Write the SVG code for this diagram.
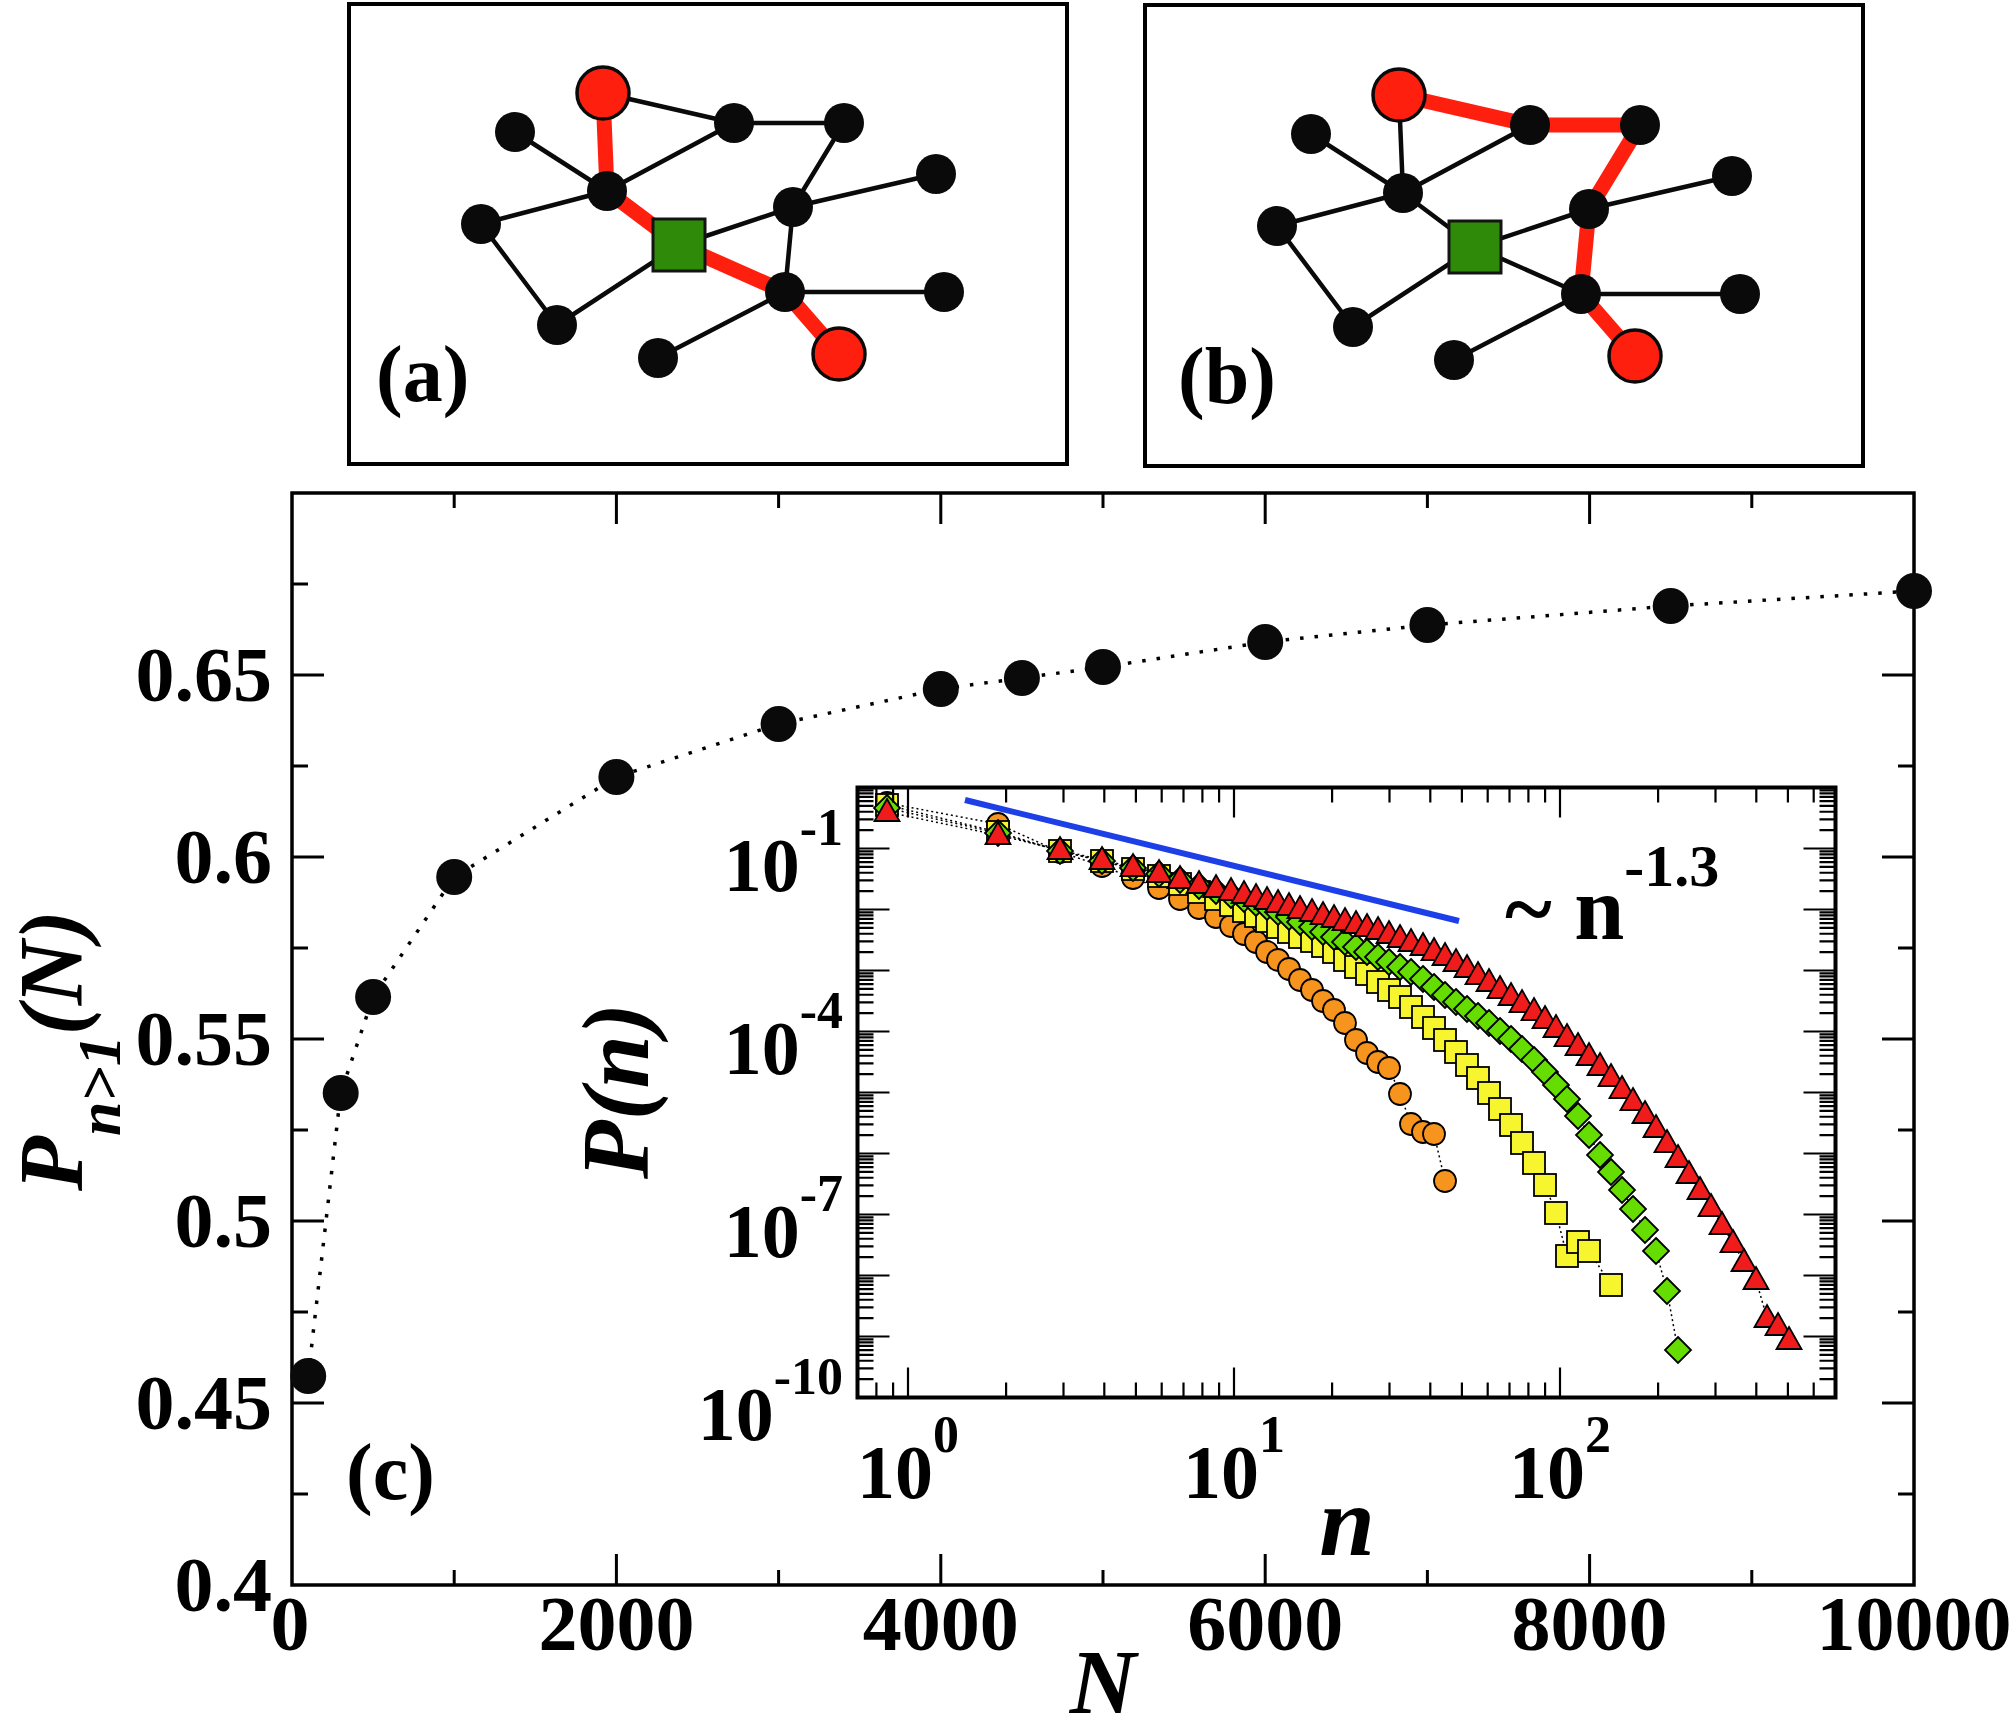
<svg xmlns="http://www.w3.org/2000/svg" width="2016" height="1734" viewBox="0 0 2016 1734">
<style>
.t{font-family:"Liberation Serif","Times New Roman",serif;font-weight:bold;fill:#000}
.it{font-style:italic}
.e{stroke:#0a0a0a;stroke-width:4.5;fill:none}
.er{stroke:#ff1f0f;stroke-width:15;fill:none}
.nb{fill:#0a0a0a}
.nr{fill:#ff1f0f;stroke:#0a0a0a;stroke-width:3.5}
.ng{fill:#2e8a08;stroke:#141414;stroke-width:3}
.box{fill:#fff;stroke:#000;stroke-width:4}
.tk{stroke:#000;stroke-width:3;fill:none}
.tk2{stroke:#000;stroke-width:2.2;fill:none}
.dl{stroke:#000;stroke-width:1.5;fill:none;stroke-dasharray:2 3}
</style>
<defs>
<circle id="mo" r="11" fill="#f7941e" stroke="#000" stroke-width="1.8"/>
<rect id="my" x="-11" y="-11" width="22" height="22" fill="#f7f52e" stroke="#000" stroke-width="1.8"/>
<path id="mg" d="M0 -13L13 0L0 13L-13 0Z" fill="#66dd00" stroke="#000" stroke-width="1.8"/>
<path id="mr" d="M0 -13L12.5 9L-12.5 9Z" fill="#f01c1c" stroke="#000" stroke-width="1.8"/>
<circle id="md" r="18" fill="#0a0a0a"/>
<path id="ydec" d="M0 2.79h16M0 5.91h16M0 9.45h16M0 13.53h16M0 18.36h16M0 24.27h16M0 31.89h16M0 42.64h16M0 61h32"/>
</defs>

<!-- Panel (a) -->
<g id="panel-a">
<rect x="349" y="4" width="718" height="460" class="box"/>
<g id="edges-a">
<path class="er" d="M603 93L607 191L679 245L785 292L839 354"/>
<path class="e" d="M603 93L734 123M734 123L844 123M844 123L793 207M793 207L785 292M607 191L515 132M607 191L734 123M607 191L481 224M481 224L557 325M557 325L679 245M679 245L793 207M793 207L936 174M785 292L944 292M785 292L658 358"/>
</g>
<g id="a-R1"><circle cx="603" cy="93" r="26" class="nr"/></g>
<g id="a-B1"><circle cx="515" cy="132" r="20" class="nb"/></g>
<g id="a-H"><circle cx="607" cy="191" r="20" class="nb"/></g>
<g id="a-B2"><circle cx="481" cy="224" r="20" class="nb"/></g>
<g id="a-G"><rect x="653" y="219" width="52" height="52" class="ng"/></g>
<g id="a-B3"><circle cx="734" cy="123" r="20" class="nb"/></g>
<g id="a-B4"><circle cx="844" cy="123" r="20" class="nb"/></g>
<g id="a-B5"><circle cx="936" cy="174" r="20" class="nb"/></g>
<g id="a-B6"><circle cx="793" cy="207" r="20" class="nb"/></g>
<g id="a-B7"><circle cx="785" cy="292" r="20" class="nb"/></g>
<g id="a-B8"><circle cx="944" cy="292" r="20" class="nb"/></g>
<g id="a-B9"><circle cx="557" cy="325" r="20" class="nb"/></g>
<g id="a-B10"><circle cx="658" cy="358" r="20" class="nb"/></g>
<g id="a-R2"><circle cx="839" cy="354" r="26" class="nr"/></g>
<text x="376" y="401" class="t" font-size="80">(a)</text>
</g>

<!-- Panel (b) -->
<g id="panel-b" transform="translate(796,2)">
<rect x="349" y="3" width="718" height="461" class="box"/>
<g id="edges-b">
<path class="er" d="M603 93L734 123L844 123L793 207L785 292L839 354"/>
<path class="e" d="M603 93L607 191M607 191L515 132M607 191L734 123M607 191L481 224M607 191L679 245M481 224L557 325M557 325L679 245M679 245L793 207M679 245L785 292M793 207L936 174M785 292L944 292M785 292L658 358"/>
</g>
<g id="b-R1"><circle cx="603" cy="93" r="26" class="nr"/></g>
<g id="b-B1"><circle cx="515" cy="132" r="20" class="nb"/></g>
<g id="b-H"><circle cx="607" cy="191" r="20" class="nb"/></g>
<g id="b-B2"><circle cx="481" cy="224" r="20" class="nb"/></g>
<g id="b-G"><rect x="653" y="219" width="52" height="52" class="ng"/></g>
<g id="b-B3"><circle cx="734" cy="123" r="20" class="nb"/></g>
<g id="b-B4"><circle cx="844" cy="123" r="20" class="nb"/></g>
<g id="b-B5"><circle cx="936" cy="174" r="20" class="nb"/></g>
<g id="b-B6"><circle cx="793" cy="207" r="20" class="nb"/></g>
<g id="b-B7"><circle cx="785" cy="292" r="20" class="nb"/></g>
<g id="b-B8"><circle cx="944" cy="292" r="20" class="nb"/></g>
<g id="b-B9"><circle cx="557" cy="325" r="20" class="nb"/></g>
<g id="b-B10"><circle cx="658" cy="358" r="20" class="nb"/></g>
<g id="b-R2"><circle cx="839" cy="354" r="26" class="nr"/></g>
<text x="382" y="401" class="t" font-size="80">(b)</text>
</g>

<!-- Panel (c) main plot -->
<g id="panel-c">
<rect x="292" y="493" width="1622" height="1092" fill="#fff" stroke="#000" stroke-width="3.5"/>
<path class="tk" d="M616.4 1585v-31M940.8 1585v-31M1265.2 1585v-31M1589.6 1585v-31M454.2 1585v-15M778.6 1585v-15M1103 1585v-15M1427.4 1585v-15M1751.8 1585v-15
M616.4 493v31M940.8 493v31M1265.2 493v31M1589.6 493v31M454.2 493v15M778.6 493v15M1103 493v15M1427.4 493v15M1751.8 493v15
M292 1403h32M292 1221h32M292 1039h32M292 857h32M292 675h32M292 1494h16M292 1312h16M292 1130h16M292 948h16M292 766h16M292 584h16
M1914 1403h-32M1914 1221h-32M1914 1039h-32M1914 857h-32M1914 675h-32M1914 1494h-16M1914 1312h-16M1914 1130h-16M1914 948h-16M1914 766h-16M1914 584h-16"/>
<g class="t" font-size="78" text-anchor="end">
<text x="272" y="1611">0.4</text>
<text x="272" y="1429">0.45</text>
<text x="272" y="1247">0.5</text>
<text x="272" y="1065">0.55</text>
<text x="272" y="883">0.6</text>
<text x="272" y="701">0.65</text>
</g>
<g class="t" font-size="78" text-anchor="middle">
<text x="290" y="1650">0</text>
<text x="616.4" y="1650">2000</text>
<text x="940.8" y="1650">4000</text>
<text x="1265.2" y="1650">6000</text>
<text x="1589.6" y="1650">8000</text>
<text x="1914" y="1650">10000</text>
</g>
<text x="1103" y="1713" class="t it" font-size="92" text-anchor="middle">N</text>
<text transform="translate(82,1191) rotate(-90)" class="t it" font-size="90">P<tspan font-size="62" dy="38">n&gt;1</tspan><tspan font-size="90" dy="-38">(N)</tspan></text>
<text x="346" y="1499" class="t" font-size="80">(c)</text>
<path d="M308.2 1376L340.7 1093L373.1 997L454.2 877L616.4 777L778.6 724L940.8 689L1021.9 678L1103 667L1265.2 642L1427.4 625L1670.7 606L1914 591" fill="none" stroke="#000" stroke-width="3.5" stroke-dasharray="3.5 11"/>
<g id="main-data">
<use href="#md" x="308.2" y="1376"/><use href="#md" x="340.7" y="1093"/><use href="#md" x="373.1" y="997"/><use href="#md" x="454.2" y="877"/><use href="#md" x="616.4" y="777"/><use href="#md" x="778.6" y="724"/><use href="#md" x="940.8" y="689"/><use href="#md" x="1021.9" y="678"/><use href="#md" x="1103" y="667"/><use href="#md" x="1265.2" y="642"/><use href="#md" x="1427.4" y="625"/><use href="#md" x="1670.7" y="606"/><use href="#md" x="1914" y="591"/>
</g>
</g>

<!-- Inset -->
<g id="inset">
<rect x="857.5" y="787.5" width="978" height="610" fill="#fff"/>
<line x1="965" y1="800" x2="1459" y2="921" stroke="#1c3fe8" stroke-width="6"/>
<g id="s-orange">
<polyline class="dl" points="887,803 998,824 1060,852 1102,866 1133,878 1159,888 1180,899 1199,908 1216,917 1231,926 1244,934 1256,942 1267,952 1278,960 1289,969 1300,980 1312,990 1323,1001 1334,1010 1345,1023 1356,1040 1367,1053 1378,1062 1389,1068 1400,1094 1411,1124 1423,1132 1434,1134 1445,1181"/>
<use href="#mo" x="887" y="803"/><use href="#mo" x="998" y="824"/><use href="#mo" x="1060" y="852"/><use href="#mo" x="1102" y="866"/><use href="#mo" x="1133" y="878"/><use href="#mo" x="1159" y="888"/><use href="#mo" x="1180" y="899"/><use href="#mo" x="1199" y="908"/><use href="#mo" x="1216" y="917"/><use href="#mo" x="1231" y="926"/><use href="#mo" x="1244" y="934"/><use href="#mo" x="1256" y="942"/><use href="#mo" x="1267" y="952"/><use href="#mo" x="1278" y="960"/><use href="#mo" x="1289" y="969"/><use href="#mo" x="1300" y="980"/><use href="#mo" x="1312" y="990"/><use href="#mo" x="1323" y="1001"/><use href="#mo" x="1334" y="1010"/><use href="#mo" x="1345" y="1023"/><use href="#mo" x="1356" y="1040"/><use href="#mo" x="1367" y="1053"/><use href="#mo" x="1378" y="1062"/><use href="#mo" x="1389" y="1068"/><use href="#mo" x="1400" y="1094"/><use href="#mo" x="1411" y="1124"/><use href="#mo" x="1423" y="1132"/><use href="#mo" x="1434" y="1134"/><use href="#mo" x="1445" y="1181"/>
</g>
<g id="s-yellow">
<polyline class="dl" points="887,805 998,832 1060,851 1102,861 1133,869 1159,876 1180,884 1199,892 1216,899 1231,905 1244,911 1256,916 1267,921 1278,927 1289,932 1300,937 1312,941 1323,946 1334,952 1345,960 1356,967 1367,974 1378,982 1389,990 1400,997 1411,1007 1423,1017 1434,1028 1445,1040 1456,1052 1467,1065 1478,1078 1489,1093 1500,1109 1511,1125 1522,1143 1534,1163 1545,1185 1556,1213 1567,1256 1578,1242 1589,1251 1611,1285"/>
<use href="#my" x="887" y="805"/><use href="#my" x="998" y="832"/><use href="#my" x="1060" y="851"/><use href="#my" x="1102" y="861"/><use href="#my" x="1133" y="869"/><use href="#my" x="1159" y="876"/><use href="#my" x="1180" y="884"/><use href="#my" x="1199" y="892"/><use href="#my" x="1216" y="899"/><use href="#my" x="1231" y="905"/><use href="#my" x="1244" y="911"/><use href="#my" x="1256" y="916"/><use href="#my" x="1267" y="921"/><use href="#my" x="1278" y="927"/><use href="#my" x="1289" y="932"/><use href="#my" x="1300" y="937"/><use href="#my" x="1312" y="941"/><use href="#my" x="1323" y="946"/><use href="#my" x="1334" y="952"/><use href="#my" x="1345" y="960"/><use href="#my" x="1356" y="967"/><use href="#my" x="1367" y="974"/><use href="#my" x="1378" y="982"/><use href="#my" x="1389" y="990"/><use href="#my" x="1400" y="997"/><use href="#my" x="1411" y="1007"/><use href="#my" x="1423" y="1017"/><use href="#my" x="1434" y="1028"/><use href="#my" x="1445" y="1040"/><use href="#my" x="1456" y="1052"/><use href="#my" x="1467" y="1065"/><use href="#my" x="1478" y="1078"/><use href="#my" x="1489" y="1093"/><use href="#my" x="1500" y="1109"/><use href="#my" x="1511" y="1125"/><use href="#my" x="1522" y="1143"/><use href="#my" x="1534" y="1163"/><use href="#my" x="1545" y="1185"/><use href="#my" x="1556" y="1213"/><use href="#my" x="1567" y="1256"/><use href="#my" x="1578" y="1242"/><use href="#my" x="1589" y="1251"/><use href="#my" x="1611" y="1285"/>
</g>
<g id="s-green">
<polyline class="dl" points="887,808 998,833 1060,851 1102,861 1133,868 1159,874 1180,880 1199,886 1216,891 1231,895 1244,899 1256,903 1267,907 1278,912 1289,917 1300,922 1312,927 1323,932 1334,937 1345,942 1356,947 1367,952 1378,957 1389,962 1400,967 1411,972 1423,979 1434,987 1445,995 1456,1002 1467,1009 1478,1016 1489,1023 1500,1031 1511,1039 1522,1049 1534,1060 1545,1072 1556,1085 1567,1099 1578,1116 1589,1135 1600,1155 1611,1172 1622,1190 1633,1209 1645,1230 1656,1251 1667,1291 1678,1350"/>
<use href="#mg" x="887" y="808"/><use href="#mg" x="998" y="833"/><use href="#mg" x="1060" y="851"/><use href="#mg" x="1102" y="861"/><use href="#mg" x="1133" y="868"/><use href="#mg" x="1159" y="874"/><use href="#mg" x="1180" y="880"/><use href="#mg" x="1199" y="886"/><use href="#mg" x="1216" y="891"/><use href="#mg" x="1231" y="895"/><use href="#mg" x="1244" y="899"/><use href="#mg" x="1256" y="903"/><use href="#mg" x="1267" y="907"/><use href="#mg" x="1278" y="912"/><use href="#mg" x="1289" y="917"/><use href="#mg" x="1300" y="922"/><use href="#mg" x="1312" y="927"/><use href="#mg" x="1323" y="932"/><use href="#mg" x="1334" y="937"/><use href="#mg" x="1345" y="942"/><use href="#mg" x="1356" y="947"/><use href="#mg" x="1367" y="952"/><use href="#mg" x="1378" y="957"/><use href="#mg" x="1389" y="962"/><use href="#mg" x="1400" y="967"/><use href="#mg" x="1411" y="972"/><use href="#mg" x="1423" y="979"/><use href="#mg" x="1434" y="987"/><use href="#mg" x="1445" y="995"/><use href="#mg" x="1456" y="1002"/><use href="#mg" x="1467" y="1009"/><use href="#mg" x="1478" y="1016"/><use href="#mg" x="1489" y="1023"/><use href="#mg" x="1500" y="1031"/><use href="#mg" x="1511" y="1039"/><use href="#mg" x="1522" y="1049"/><use href="#mg" x="1534" y="1060"/><use href="#mg" x="1545" y="1072"/><use href="#mg" x="1556" y="1085"/><use href="#mg" x="1567" y="1099"/><use href="#mg" x="1578" y="1116"/><use href="#mg" x="1589" y="1135"/><use href="#mg" x="1600" y="1155"/><use href="#mg" x="1611" y="1172"/><use href="#mg" x="1622" y="1190"/><use href="#mg" x="1633" y="1209"/><use href="#mg" x="1645" y="1230"/><use href="#mg" x="1656" y="1251"/><use href="#mg" x="1667" y="1291"/><use href="#mg" x="1678" y="1350"/>
</g>
<g id="s-red">
<polyline class="dl" points="887,812 998,835 1060,850 1102,860 1133,867 1159,873 1180,879 1199,884 1216,888 1231,891 1244,894 1256,897 1267,900 1278,903 1289,906 1300,909 1312,912 1323,915 1334,918 1345,921 1356,924 1367,927 1378,930 1389,934 1400,938 1411,942 1423,946 1434,951 1445,956 1456,962 1467,968 1478,975 1489,982 1500,989 1511,996 1522,1003 1534,1011 1545,1019 1556,1028 1567,1037 1578,1046 1589,1056 1600,1066 1611,1077 1622,1089 1633,1101 1645,1114 1656,1128 1667,1143 1678,1158 1689,1174 1700,1190 1711,1207 1722,1225 1733,1243 1744,1262 1756,1280 1767,1318 1778,1326 1789,1340"/>
<use href="#mr" x="887" y="812"/><use href="#mr" x="998" y="835"/><use href="#mr" x="1060" y="850"/><use href="#mr" x="1102" y="860"/><use href="#mr" x="1133" y="867"/><use href="#mr" x="1159" y="873"/><use href="#mr" x="1180" y="879"/><use href="#mr" x="1199" y="884"/><use href="#mr" x="1216" y="888"/><use href="#mr" x="1231" y="891"/><use href="#mr" x="1244" y="894"/><use href="#mr" x="1256" y="897"/><use href="#mr" x="1267" y="900"/><use href="#mr" x="1278" y="903"/><use href="#mr" x="1289" y="906"/><use href="#mr" x="1300" y="909"/><use href="#mr" x="1312" y="912"/><use href="#mr" x="1323" y="915"/><use href="#mr" x="1334" y="918"/><use href="#mr" x="1345" y="921"/><use href="#mr" x="1356" y="924"/><use href="#mr" x="1367" y="927"/><use href="#mr" x="1378" y="930"/><use href="#mr" x="1389" y="934"/><use href="#mr" x="1400" y="938"/><use href="#mr" x="1411" y="942"/><use href="#mr" x="1423" y="946"/><use href="#mr" x="1434" y="951"/><use href="#mr" x="1445" y="956"/><use href="#mr" x="1456" y="962"/><use href="#mr" x="1467" y="968"/><use href="#mr" x="1478" y="975"/><use href="#mr" x="1489" y="982"/><use href="#mr" x="1500" y="989"/><use href="#mr" x="1511" y="996"/><use href="#mr" x="1522" y="1003"/><use href="#mr" x="1534" y="1011"/><use href="#mr" x="1545" y="1019"/><use href="#mr" x="1556" y="1028"/><use href="#mr" x="1567" y="1037"/><use href="#mr" x="1578" y="1046"/><use href="#mr" x="1589" y="1056"/><use href="#mr" x="1600" y="1066"/><use href="#mr" x="1611" y="1077"/><use href="#mr" x="1622" y="1089"/><use href="#mr" x="1633" y="1101"/><use href="#mr" x="1645" y="1114"/><use href="#mr" x="1656" y="1128"/><use href="#mr" x="1667" y="1143"/><use href="#mr" x="1678" y="1158"/><use href="#mr" x="1689" y="1174"/><use href="#mr" x="1700" y="1190"/><use href="#mr" x="1711" y="1207"/><use href="#mr" x="1722" y="1225"/><use href="#mr" x="1733" y="1243"/><use href="#mr" x="1744" y="1262"/><use href="#mr" x="1756" y="1280"/><use href="#mr" x="1767" y="1318"/><use href="#mr" x="1778" y="1326"/><use href="#mr" x="1789" y="1340"/>
</g>
<rect x="857.5" y="787.5" width="978" height="610" fill="none" stroke="#000" stroke-width="4"/>
<path class="tk2" d="M908 1397.5v-30M1234 1397.5v-30M1560 1397.5v-30M876.4 1397.5v-15M893.1 1397.5v-15M1006.1 1397.5v-15M1063.5 1397.5v-15M1104.3 1397.5v-15M1135.9 1397.5v-15M1161.7 1397.5v-15M1183.5 1397.5v-15M1202.4 1397.5v-15M1219.1 1397.5v-15M1332.1 1397.5v-15M1389.5 1397.5v-15M1430.3 1397.5v-15M1461.9 1397.5v-15M1487.7 1397.5v-15M1509.5 1397.5v-15M1528.4 1397.5v-15M1545.1 1397.5v-15M1658.1 1397.5v-15M1715.5 1397.5v-15M1756.3 1397.5v-15M1787.9 1397.5v-15M1813.7 1397.5v-15
M908 787.5v30M1234 787.5v30M1560 787.5v30M876.4 787.5v15M893.1 787.5v15M1006.1 787.5v15M1063.5 787.5v15M1104.3 787.5v15M1135.9 787.5v15M1161.7 787.5v15M1183.5 787.5v15M1202.4 787.5v15M1219.1 787.5v15M1332.1 787.5v15M1389.5 787.5v15M1430.3 787.5v15M1461.9 787.5v15M1487.7 787.5v15M1509.5 787.5v15M1528.4 787.5v15M1545.1 787.5v15M1658.1 787.5v15M1715.5 787.5v15M1756.3 787.5v15M1787.9 787.5v15M1813.7 787.5v15"/>
<g class="tk2">
<use href="#ydec" transform="translate(857.5,787.5)"/><use href="#ydec" transform="translate(857.5,848.5)"/><use href="#ydec" transform="translate(857.5,909.5)"/><use href="#ydec" transform="translate(857.5,970.5)"/><use href="#ydec" transform="translate(857.5,1031.5)"/><use href="#ydec" transform="translate(857.5,1092.5)"/><use href="#ydec" transform="translate(857.5,1153.5)"/><use href="#ydec" transform="translate(857.5,1214.5)"/><use href="#ydec" transform="translate(857.5,1275.5)"/><use href="#ydec" transform="translate(857.5,1336.5)"/>
<use href="#ydec" transform="translate(1835.5,787.5) scale(-1,1)"/><use href="#ydec" transform="translate(1835.5,848.5) scale(-1,1)"/><use href="#ydec" transform="translate(1835.5,909.5) scale(-1,1)"/><use href="#ydec" transform="translate(1835.5,970.5) scale(-1,1)"/><use href="#ydec" transform="translate(1835.5,1031.5) scale(-1,1)"/><use href="#ydec" transform="translate(1835.5,1092.5) scale(-1,1)"/><use href="#ydec" transform="translate(1835.5,1153.5) scale(-1,1)"/><use href="#ydec" transform="translate(1835.5,1214.5) scale(-1,1)"/><use href="#ydec" transform="translate(1835.5,1275.5) scale(-1,1)"/><use href="#ydec" transform="translate(1835.5,1336.5) scale(-1,1)"/>
</g>
<g class="t" font-size="76" text-anchor="end">
<text x="843" y="890.5">10<tspan font-size="52" dy="-46">-1</tspan></text>
<text x="843" y="1073.5">10<tspan font-size="52" dy="-46">-4</tspan></text>
<text x="843" y="1256.5">10<tspan font-size="52" dy="-46">-7</tspan></text>
<text x="843" y="1439.5">10<tspan font-size="52" dy="-46">-10</tspan></text>
</g>
<g class="t" font-size="76" text-anchor="middle">
<text x="908" y="1498">10<tspan font-size="52" dy="-46">0</tspan></text>
<text x="1234" y="1498">10<tspan font-size="52" dy="-46">1</tspan></text>
<text x="1560" y="1498">10<tspan font-size="52" dy="-46">2</tspan></text>
</g>
<text x="1347" y="1555" class="t it" font-size="100" text-anchor="middle">n</text>
<text transform="translate(648,1091) rotate(-90)" class="t it" font-size="96" text-anchor="middle">P(n)</text>
<text x="1505" y="939" class="t" font-size="90">~ n<tspan font-size="60" dy="-53">-1.3</tspan></text>
</g>
</svg>
